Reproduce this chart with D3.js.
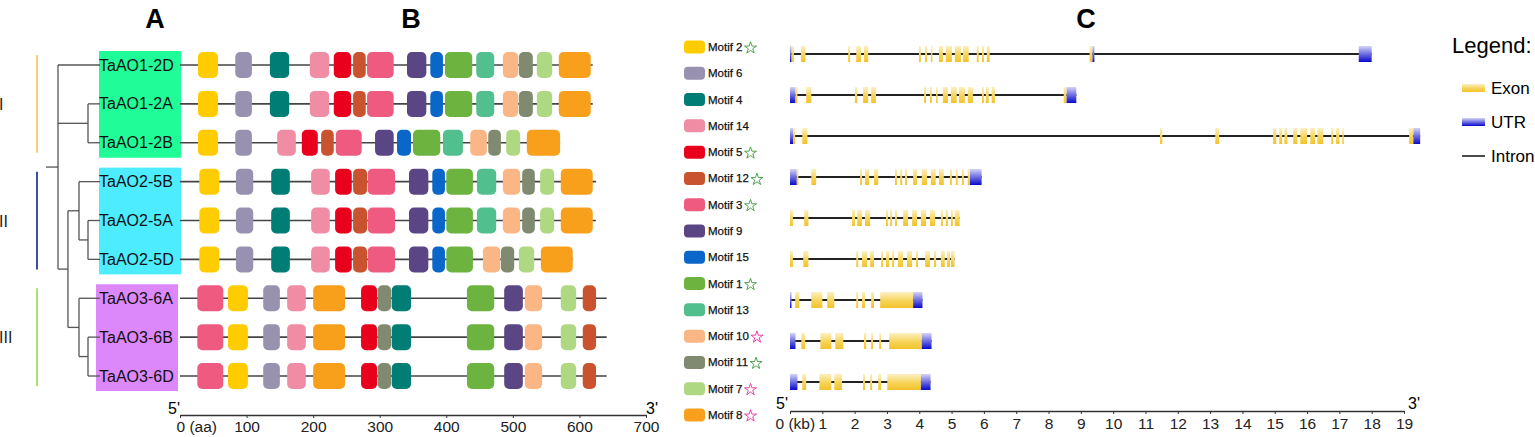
<!DOCTYPE html>
<html>
<head>
<meta charset="utf-8">
<script src="https://cdn.jsdelivr.net/npm/d3@7"></script>
<style>
  body { margin: 0; background: #fff; }
  svg { display: block; font-family: "Liberation Sans", Arial, sans-serif; }
</style>
</head>
<body>
<svg id="fig" width="1535" height="437"></svg>
<script>
// ---- data ----
const genes = ["TaAO1-2D", "TaAO1-2A", "TaAO1-2B", "TaAO2-5B", "TaAO2-5A", "TaAO2-5D", "TaAO3-6A", "TaAO3-6B", "TaAO3-6D"];
const groups = [
  { name: "I",   first: 0, last: 2, bar: "#f2d27a", box: "#20fd98" },
  { name: "II",  first: 3, last: 5, bar: "#3f4f9e", box: "#4decff" },
  { name: "III", first: 6, last: 8, bar: "#a8e46a", box: "#dc88fa" }
];

// tree (h = distance from root, leaves line up at the labels)
const tree = { h: 0, children: [
  { name: "TaAO1-2D" },
  { h: 2.5, children: [{ name: "TaAO1-2A" }, { name: "TaAO1-2B" }] },
  { h: 0.83, children: [
    { h: 1.75, children: [{ name: "TaAO2-5B" }, { h: 2.5, children: [{ name: "TaAO2-5A" }, { name: "TaAO2-5D" }] }] },
    { h: 1.75, children: [{ name: "TaAO3-6A" }, { h: 2.5, children: [{ name: "TaAO3-6B" }, { name: "TaAO3-6D" }] }] }
  ] }
] };

// motifs: [motif, start aa, end aa]
const proteinLength = [620, 620, 571, 625, 625, 590, 641, 641, 641];
const motifsAO1 = [[2,27,57],[6,83,108],[4,135,164],[14,195,224],[5,231,257],[12,260,279],[3,281,321],[9,341,370],[15,376,395],[1,398,439],[13,445,472],[10,485,508],[11,509,530],[7,536,559],[8,569,617]];
const motifsAO1B = [[2,27,57],[6,83,108],[14,146,174],[5,183,207],[12,212,231],[3,234,273],[9,293,321],[15,326,347],[1,350,391],[13,395,425],[10,436,461],[11,463,482],[7,490,511],[8,521,571]];
const motifsAO2 = [[2,29,59],[6,84,110],[4,137,165],[14,197,225],[5,233,258],[12,260,281],[3,282,323],[9,344,373],[15,379,398],[1,400,440],[13,446,475],[10,485,511],[11,514,533],[7,541,562],[8,572,620]];
const motifsAO2D = [[2,29,59],[6,84,110],[4,137,165],[14,197,225],[5,233,258],[12,260,281],[3,282,323],[9,344,373],[15,379,398],[1,400,440],[10,455,481],[11,482,502],[7,509,532],[8,542,590]];
const motifsAO3 = [[3,26,65],[2,72,102],[6,125,150],[14,161,189],[8,200,248],[5,272,296],[11,297,317],[4,318,347],[1,431,472],[9,487,515],[10,518,544],[7,572,595],[12,605,625]];
const geneMotifs = [motifsAO1, motifsAO1, motifsAO1B, motifsAO2, motifsAO2, motifsAO2D, motifsAO3, motifsAO3, motifsAO3];

const motifOrder = [2, 6, 4, 14, 5, 12, 3, 9, 15, 1, 13, 10, 11, 7, 8];
const motifStar = { 2: "g", 5: "g", 12: "g", 3: "g", 1: "g", 10: "m", 11: "g", 7: "m", 8: "m" };
const motifColor = {
  2: "#ffcc00", 6: "#9891b0", 4: "#007d74", 14: "#f08ca4", 5: "#e8001c",
  12: "#c9532f", 3: "#ef5a80", 9: "#5a4585", 15: "#0a66c8", 1: "#6db33f",
  13: "#52bf8f", 10: "#fbb685", 11: "#7f8a70", 7: "#aed882", 8: "#f8a01c"
};
const aaTicks = [0, 100, 200, 300, 400, 500, 600, 700];

// gene structure: [start kb, end kb, type]
const geneLength = [18.0, 8.86, 19.5, 5.93, 5.25, 5.09, 4.1, 4.38, 4.35];
const struct12D = [[0,0.05,"UTR"],[0.05,0.12,"exon"],[0.34,0.48,"exon"],[1.8,1.86,"exon"],[2.05,2.2,"exon"],[2.29,2.42,"exon"],[3.99,4.05,"exon"],[4.18,4.24,"exon"],[4.36,4.39,"exon"],[4.61,4.73,"exon"],[4.82,5.01,"exon"],[5.1,5.29,"exon"],[5.35,5.53,"exon"],[5.78,5.84,"exon"],[5.94,6.0,"exon"],[6.09,6.18,"exon"],[9.27,9.36,"exon"],[9.36,9.42,"UTR"],[17.6,18.0,"UTR"]];
const struct12A = [[0,0.17,"UTR"],[0.17,0.23,"exon"],[0.5,0.66,"exon"],[2.01,2.08,"exon"],[2.26,2.42,"exon"],[2.51,2.66,"exon"],[4.15,4.21,"exon"],[4.33,4.39,"exon"],[4.52,4.55,"exon"],[4.73,4.89,"exon"],[4.98,5.16,"exon"],[5.23,5.41,"exon"],[5.5,5.66,"exon"],[5.94,6.0,"exon"],[6.06,6.15,"exon"],[6.24,6.34,"exon"],[8.47,8.56,"exon"],[8.56,8.86,"UTR"]];
const struct12B = [[0,0.1,"UTR"],[0.1,0.16,"exon"],[0.38,0.54,"exon"],[11.45,11.52,"exon"],[13.16,13.28,"exon"],[14.95,15.05,"exon"],[15.14,15.23,"exon"],[15.3,15.39,"exon"],[15.57,15.7,"exon"],[15.79,16.0,"exon"],[16.1,16.25,"exon"],[16.32,16.5,"exon"],[16.75,16.81,"exon"],[16.9,17.0,"exon"],[17.09,17.13,"exon"],[19.16,19.29,"exon"],[19.29,19.5,"UTR"]];
const struct25B = [[0,0.21,"UTR"],[0.21,0.26,"exon"],[0.66,0.81,"exon"],[2.17,2.23,"exon"],[2.32,2.45,"exon"],[2.6,2.73,"exon"],[3.25,3.31,"exon"],[3.41,3.47,"exon"],[3.56,3.62,"exon"],[3.81,3.93,"exon"],[4.08,4.24,"exon"],[4.36,4.51,"exon"],[4.61,4.76,"exon"],[4.95,5.01,"exon"],[5.13,5.19,"exon"],[5.32,5.38,"exon"],[5.5,5.57,"exon"],[5.57,5.93,"UTR"]];
const struct25A = [[0,0.09,"exon"],[0.44,0.57,"exon"],[1.92,2.01,"exon"],[2.08,2.23,"exon"],[2.32,2.48,"exon"],[2.97,3.03,"exon"],[3.1,3.16,"exon"],[3.25,3.31,"exon"],[3.5,3.65,"exon"],[3.78,3.93,"exon"],[4.05,4.21,"exon"],[4.33,4.49,"exon"],[4.67,4.73,"exon"],[4.82,4.89,"exon"],[4.98,5.04,"exon"],[5.1,5.25,"exon"]];
const struct25D = [[0,0.09,"exon"],[0.41,0.57,"exon"],[2.05,2.11,"exon"],[2.23,2.39,"exon"],[2.48,2.6,"exon"],[2.82,2.88,"exon"],[2.97,3.07,"exon"],[3.16,3.22,"exon"],[3.34,3.5,"exon"],[3.62,3.78,"exon"],[3.9,3.96,"exon"],[4.18,4.33,"exon"],[4.45,4.52,"exon"],[4.67,4.79,"exon"],[4.86,4.95,"exon"],[4.98,5.09,"exon"]];
const struct36A = [[0,0.04,"UTR"],[0.16,0.29,"exon"],[0.66,1.0,"exon"],[1.15,1.37,"exon"],[2.05,2.11,"exon"],[2.23,2.32,"exon"],[2.51,2.6,"exon"],[2.79,3.81,"exon"],[3.81,4.1,"UTR"]];
const struct36B = [[0,0.17,"UTR"],[0.35,0.47,"exon"],[0.94,1.28,"exon"],[1.4,1.65,"exon"],[2.29,2.36,"exon"],[2.51,2.57,"exon"],[2.76,2.82,"exon"],[3.07,4.08,"exon"],[4.08,4.38,"UTR"]];
const struct36D = [[0,0.23,"UTR"],[0.38,0.5,"exon"],[0.91,1.28,"exon"],[1.37,1.61,"exon"],[2.26,2.32,"exon"],[2.48,2.54,"exon"],[2.73,2.82,"exon"],[3.01,4.05,"exon"],[4.05,4.35,"UTR"]];
const geneStructs = [struct12D, struct12A, struct12B, struct25B, struct25A, struct25D, struct36A, struct36B, struct36D];
const kbTicks = d3.range(0, 20);

// ---- drawing ----
const svg = d3.select("#fig");
const narrow = '"Liberation Sans Narrow", "Arial Narrow", "Liberation Sans", sans-serif';

const defs = svg.append("defs");
const exonGrad = defs.append("linearGradient").attr("id", "exonGrad").attr("x1", 0).attr("y1", 0).attr("x2", 0).attr("y2", 1);
exonGrad.append("stop").attr("offset", "0%").attr("stop-color", "#fcf0c4");
exonGrad.append("stop").attr("offset", "55%").attr("stop-color", "#f6d458");
exonGrad.append("stop").attr("offset", "100%").attr("stop-color", "#f3c22c");
const utrGrad = defs.append("linearGradient").attr("id", "utrGrad").attr("x1", 0).attr("y1", 0).attr("x2", 0).attr("y2", 1);
utrGrad.append("stop").attr("offset", "0%").attr("stop-color", "#d4d4f6");
utrGrad.append("stop").attr("offset", "100%").attr("stop-color", "#0808cc");

// panel letters
svg.selectAll(".panelLetter").data([["A", 155], ["B", 411], ["C", 1086]]).join("text")
  .attr("x", d => d[1]).attr("y", 28)
  .attr("text-anchor", "middle")
  .style("font-family", narrow).style("font-weight", "bold").style("font-size", "27px")
  .text(d => d[0]);

// rows for A and B
const rowY = d3.scalePoint().domain(genes).range([65, 376]);

// group bars + roman numerals
svg.selectAll(".gbar").data(groups).join("line")
  .attr("x1", 37).attr("x2", 37)
  .attr("y1", d => rowY(genes[d.first]) - 10)
  .attr("y2", d => rowY(genes[d.last]) + 10)
  .attr("stroke", d => d.bar).attr("stroke-width", 2);
svg.selectAll(".glab").data(groups).join("text")
  .attr("x", -1)
  .attr("y", d => (rowY(genes[d.first]) + rowY(genes[d.last])) / 2 + 6)
  .style("font-size", "16px").attr("fill", "#222")
  .text(d => d.name);

// label boxes
svg.selectAll(".gbox").data(groups).join("rect")
  .attr("x", (d, i) => i === 2 ? 96 : 99)
  .attr("width", 82)
  .attr("y", d => rowY(genes[d.first]) - 14)
  .attr("height", d => rowY(genes[d.last]) - rowY(genes[d.first]) + 29)
  .attr("fill", d => d.box);

// tree
const treeX = d3.scaleLinear().domain([-1, 3.5]).range([46, 100]);
const root = d3.hierarchy(tree);
root.eachAfter(n => {
  if (!n.children) { n.data.h = 3.5; n.yy = rowY(n.data.name); }
  else n.yy = (n.children[0].yy + n.children[n.children.length - 1].yy) / 2;
});
const treeG = svg.append("g").attr("stroke", "#555").attr("stroke-width", 1.3).attr("fill", "none");
treeG.append("line")
  .attr("x1", treeX(-1)).attr("x2", treeX(0)).attr("y1", root.yy).attr("y2", root.yy);
root.each(n => {
  if (!n.children) return;
  const xn = treeX(n.data.h);
  treeG.append("line").attr("x1", xn).attr("x2", xn)
    .attr("y1", n.children[0].yy).attr("y2", n.children[n.children.length - 1].yy);
  n.children.forEach(c => {
    treeG.append("line").attr("x1", xn).attr("x2", treeX(c.data.h))
      .attr("y1", c.yy).attr("y2", c.yy);
  });
});

// gene names
svg.selectAll(".gname").data(genes).join("text")
  .attr("x", 99).attr("y", d => rowY(d) + 5.5)
  .style("font-size", "16px").attr("fill", "#111")
  .text(d => d);

// panel B: motifs
const xAA = d3.scaleLinear().domain([0, 700]).range([180, 646]);
svg.selectAll(".backbone").data(genes).join("line")
  .attr("x1", xAA(0)).attr("x2", (d, i) => xAA(proteinLength[i]))
  .attr("y1", d => rowY(d)).attr("y2", d => rowY(d))
  .attr("stroke", "#444").attr("stroke-width", 1.6);

genes.forEach((g, i) => {
  svg.append("g").selectAll("rect").data(geneMotifs[i]).join("rect")
    .attr("x", d => xAA(d[1]))
    .attr("width", d => xAA(d[2]) - xAA(d[1]))
    .attr("y", rowY(g) - 13).attr("height", 26)
    .attr("rx", 5)
    .attr("fill", d => motifColor[d[0]]);
});

const axB = svg.append("g").attr("transform", "translate(0,415)")
  .call(d3.axisBottom(xAA).tickValues(aaTicks).tickSize(3).tickSizeOuter(0).tickPadding(3)
    .tickFormat(d => d === 0 ? "0 (aa)" : d));
axB.select(".domain").attr("stroke", "#333").attr("stroke-width", 1.3);
axB.selectAll(".tick line").attr("stroke", "#333");
axB.selectAll(".tick text").style("font-size", "15.5px").attr("fill", "#222")
  .style("font-family", '"Liberation Sans", Arial, sans-serif');
axB.selectAll(".tick text").filter(d => d === 0).attr("text-anchor", "start").attr("x", -4);
svg.append("text").attr("x", xAA(0)).attr("y", 414).attr("text-anchor", "end")
  .style("font-size", "16px").text("5'");
svg.append("text").attr("x", xAA(700)).attr("y", 414)
  .style("font-size", "16px").text("3'");

// motif legend
const legY = d3.scalePoint().domain(motifOrder).range([47, 415]);
const leg = svg.append("g").selectAll("g").data(motifOrder).join("g")
  .attr("transform", d => `translate(684,${legY(d)})`);
leg.append("rect").attr("x", 0).attr("y", -6.5).attr("width", 21).attr("height", 13).attr("rx", 4)
  .attr("fill", d => motifColor[d]);
leg.append("text").attr("x", 24).attr("y", 4)
  .style("font-size", "11.5px").attr("fill", "#111")
  .attr("stroke", "#111").attr("stroke-width", 0.25)
  .text(d => "Motif " + d);
leg.each(function (d) {
  if (!motifStar[d]) return;
  const g = d3.select(this);
  const w = g.select("text").node().getComputedTextLength();
  g.append("path")
    .attr("d", d3.symbol(d3.symbolStar, 44)())
    .attr("transform", `translate(${24 + w + 8},1)`)
    .attr("fill", "none")
    .attr("stroke", motifStar[d] === "g" ? "#3f9a3c" : "#ee2b9c")
    .attr("stroke-width", 0.9);
});

// panel C: gene structures
const xKB = d3.scaleLinear().domain([0, 19]).range([790, 1404]);
const rowC = d3.scalePoint().domain(genes).range([54, 382]);
svg.selectAll(".intron").data(genes).join("line")
  .attr("x1", xKB(0)).attr("x2", (d, i) => xKB(geneLength[i]))
  .attr("y1", d => rowC(d)).attr("y2", d => rowC(d))
  .attr("stroke", "#222").attr("stroke-width", 2);
genes.forEach((g, i) => {
  svg.append("g").selectAll("rect").data(geneStructs[i]).join("rect")
    .attr("x", d => xKB(d[0]))
    .attr("width", d => Math.max(1.5, xKB(d[1]) - xKB(d[0])))
    .attr("y", rowC(g) - 8).attr("height", 16)
    .attr("fill", d => d[2] === "UTR" ? "url(#utrGrad)" : "url(#exonGrad)");
});

const axC = svg.append("g").attr("transform", "translate(0,411)")
  .call(d3.axisBottom(xKB).tickValues(kbTicks).tickSize(3).tickSizeOuter(0).tickPadding(4)
    .tickFormat(d => d === 0 ? "0 (kb)" : d));
axC.select(".domain").attr("stroke", "#333").attr("stroke-width", 1.3);
axC.selectAll(".tick line").attr("stroke", "#333");
axC.selectAll(".tick text").style("font-size", "15.5px").attr("fill", "#222")
  .style("font-family", '"Liberation Sans", Arial, sans-serif');
axC.selectAll(".tick text").filter(d => d === 0).attr("text-anchor", "start").attr("x", -15);
svg.append("text").attr("x", xKB(0) - 2).attr("y", 409).attr("text-anchor", "end")
  .style("font-size", "16px").text("5'");
svg.append("text").attr("x", xKB(19) + 4).attr("y", 409)
  .style("font-size", "16px").text("3'");

// structure legend
const legC = svg.append("g").style("font-family", narrow);
legC.append("text").attr("x", 1452).attr("y", 53).style("font-size", "22px").text("Legend:");
const legItems = [["Exon", "url(#exonGrad)"], ["UTR", "url(#utrGrad)"], ["Intron", null]];
const legCY = d3.scalePoint().domain(legItems.map(d => d[0])).range([88, 156]);
legItems.forEach(d => {
  const y = legCY(d[0]);
  if (d[1]) legC.append("rect").attr("x", 1462).attr("y", y - 4).attr("width", 23).attr("height", 8).attr("fill", d[1]);
  else legC.append("line").attr("x1", 1462).attr("x2", 1485).attr("y1", y).attr("y2", y).attr("stroke", "#111").attr("stroke-width", 1.5);
  legC.append("text").attr("x", 1491).attr("y", y + 6).style("font-size", "17px").text(d[0]);
});
</script>
</body>
</html>
